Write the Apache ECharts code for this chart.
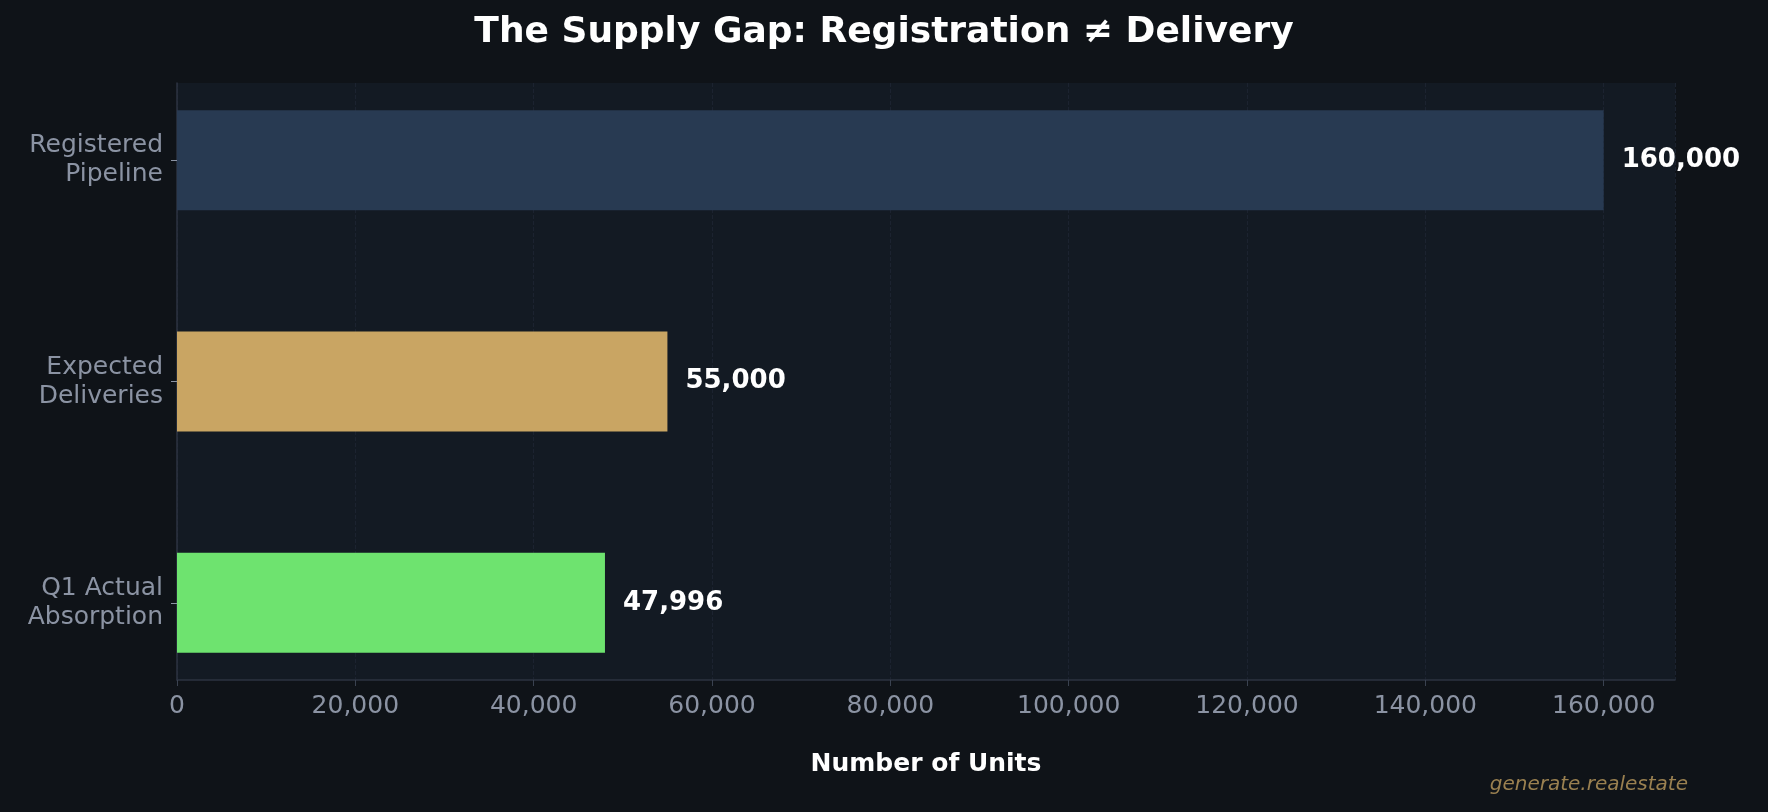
<!DOCTYPE html>
<html>
<head>
<meta charset="utf-8">
<script src="https://cdn.jsdelivr.net/npm/echarts@6/dist/echarts.min.js"></script>
<style>
  html, body { margin: 0; padding: 0; background: #0f1318; }
  #chart { width: 1768px; height: 812px; }
</style>
</head>
<body>
<div id="chart"></div>
<script>
const categories = ['Registered\nPipeline', 'Expected\nDeliveries', 'Q1 Actual\nAbsorption']
const values = [160000, 55000, 47996]
const barColors = ['#283a52', '#c9a563', '#6ee36f']

const chart = echarts.init(document.getElementById('chart'))
const font = 'DejaVu Sans'
const fmt = v => v.toLocaleString('en-US')

chart.setOption({
  backgroundColor: '#0f1318',
  textStyle: { fontFamily: font },
  title: {
    text: 'The Supply Gap: Registration \u2260 Delivery',
    left: 'center', top: 10,
    textStyle: { color: '#ffffff', fontSize: 36, fontWeight: 'bold', fontFamily: font }
  },
  graphic: [{
    type: 'text', right: 80, top: 775,
    style: { text: 'generate.realestate', fill: '#9a8050', font: 'italic 20px DejaVu Sans' }
  }],
  grid: [
    // bars: category band stretched to match the plot spacing
    { left: 177, right: 93, top: 49.5, bottom: 98.5 },
    // frame: background, x axis, grid lines
    { left: 177, right: 93, top: 83, bottom: 132, show: true, backgroundColor: '#131a23', borderWidth: 0 }
  ],
  xAxis: [
    { gridIndex: 0, type: 'value', min: 0, max: 168000, show: false },
    {
      gridIndex: 1, type: 'value', min: 0, max: 168000, interval: 20000,
      name: 'Number of Units', nameLocation: 'middle', nameGap: 72,
      nameTextStyle: { color: '#ffffff', fontSize: 25, fontWeight: 'bold' },
      axisLine: { show: true, lineStyle: { color: '#2c3340', width: 1.5 } },
      axisTick: { show: true, length: 6, lineStyle: { color: '#3a4250' } },
      axisLabel: { color: '#8b93a3', fontSize: 25, margin: 14, formatter: fmt, showMaxLabel: false },
      splitLine: { show: true, lineStyle: { color: '#1c2330', type: 'dashed' } }
    }
  ],
  yAxis: [
    {
      gridIndex: 0, type: 'category', data: categories, inverse: true,
      axisLine: { show: false },
      axisTick: { show: true, alignWithLabel: true, length: 6, lineStyle: { color: '#8b93a3' } },
      axisLabel: { color: '#8b93a3', fontSize: 25, lineHeight: 29, margin: 14, align: 'right' }
    },
    {
      gridIndex: 1, type: 'value', min: 0, max: 1,
      axisLine: { show: true, lineStyle: { color: '#2c3340', width: 1.5 } },
      axisTick: { show: false }, axisLabel: { show: false }, splitLine: { show: false }
    }
  ],
  series: [{
    type: 'bar',
    xAxisIndex: 0, yAxisIndex: 0,
    barWidth: 100,
    data: values.map((v, i) => ({ value: v, itemStyle: { color: barColors[i] } })),
    label: {
      show: true, position: 'right', distance: 18,
      color: '#ffffff', fontSize: 26, fontWeight: 'bold',
      formatter: p => fmt(p.value)
    }
  }]
})
</script>
</body>
</html>
